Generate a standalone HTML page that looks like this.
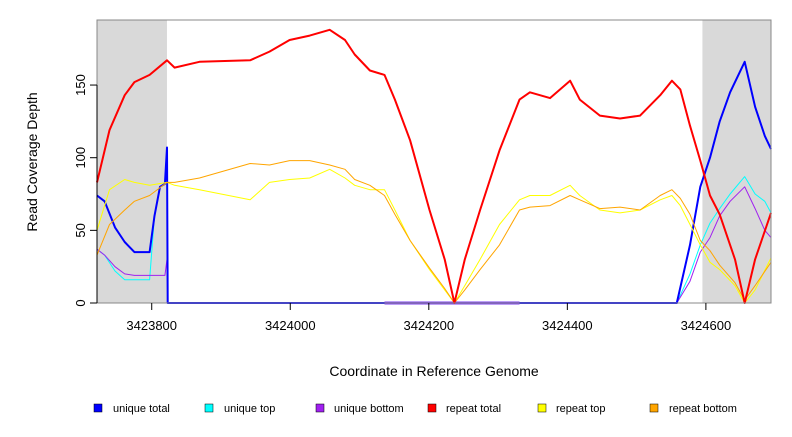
<!DOCTYPE html>
<html><head><meta charset="utf-8"><style>
html,body{margin:0;padding:0;background:#fff;}
svg text{font-family:"Liberation Sans",sans-serif;fill:#000;}
</style></head><body>
<svg id="chart" width="792" height="432" xmlns="http://www.w3.org/2000/svg">
<g id="plot"></g>
</svg>
<script>
const repeatX=[3423721,3423739,3423761,3423775,3423797,3423822,3423833,3423869,3423942,3423970,3423999,3424028,3424057,3424079,3424093,3424115,3424136,3424151,3424173,3424201,3424223,3424237,3424252,3424274,3424302,3424331,3424346,3424375,3424404,3424418,3424447,3424476,3424505,3424534,3424551,3424563,3424577,3424592,3424606,3424620,3424642,3424656,3424671,3424694];
const repeatTotal=[83,119,143,152,157,167,162,166,167,173,181,184,188,181,171,160,157,140,112,64,30,0,30,64,105,140,145,141,153,140,129,127,129,143,153,147,122,98,74,61,30,0,30,62];
const repeatTop=[50,78,85,83,81,83,81,78,71,83,85,86,92,86,81,78,78,64,43,23,9,0,12,30,54,71,74,74,81,74,64,62,64,71,74,67,54,40,28,23,12,0,9,31];
const repeatBottom=[33,54,64,70,74,83,83,86,96,95,98,98,95,92,85,81,74,61,43,24,10,0,9,23,40,64,66,67,74,71,65,66,64,74,78,72,61,43,36,26,14,2,12,28];
const uniqueX=[3423721,3423732,3423747,3423761,3423775,3423790,3423797,3423804,3423812,3423819,3423822,3423823,3424558,3424577,3424592,3424606,3424620,3424635,3424656,3424671,3424685,3424694];
const uniqueTotal=[74,70,52,42,35,35,35,60,80,82,107,0,0,40,80,100,125,145,166,135,115,106];
const uniqueTop=[37,33,22,16,16,16,16,60,80,82,82,0,0,20,40,55,65,75,87,75,70,62];
const uniqueBottom=[37,33,25,20,19,19,19,19,19,19,30,0,0,15,35,45,60,70,80,65,50,45];
const blipX=[3424136,3424331];
const blipY=[0,0];
const xTicks=[3423800,3424000,3424200,3424400,3424600];
const yTicks=[0,50,100,150];
const shadeRegions=[[3423721,3423822],[3424595,3424694]];

const L=97,R=771,T=20,B=303;
const X0=3423721,X1=3424694;
function sx(v){return L+(v-X0)/(X1-X0)*(R-L);}
function sy(v){return B-v*1.453;}
const NS="http://www.w3.org/2000/svg";
const g=document.getElementById('plot');
function mk(tag,attrs,parent){const e=document.createElementNS(NS,tag);for(const k in attrs)e.setAttribute(k,attrs[k]);(parent||g).appendChild(e);return e;}

shadeRegions.forEach(r=>{
  const e=mk('rect',{x:sx(r[0]),y:T,width:sx(r[1])-sx(r[0]),height:B-T,fill:'#d9d9d9'});
  
  
});

function line(xs,ys,color,w,name){
  const pts=xs.map((x,i)=>sx(x).toFixed(1)+','+sy(ys[i]).toFixed(1)).join(' ');
  const e=mk('polyline',{points:pts,fill:'none',stroke:color,'stroke-width':w,'stroke-linejoin':'round'});
  
  
}
line(uniqueX,uniqueTop,'#00ffff',1,'unique-top-line');
line(uniqueX,uniqueBottom,'#a020f0',1,'unique-bottom-line');
line(uniqueX,uniqueTotal,'#0000ff',2,'unique-total-line');
line(blipX,blipY,'#7b3ff0',3,'unique-bottom-zero-segment');
line(repeatX,repeatTop,'#ffff00',1,'repeat-top-line');
line(repeatX,repeatBottom,'#ffa500',1,'repeat-bottom-line');
line(repeatX,repeatTotal,'#ff0000',2,'repeat-total-line');

const frame=mk('rect',{x:L,y:T,width:R-L,height:B-T,fill:'none',stroke:'#888','stroke-width':1});



xTicks.forEach(v=>{
  const x=sx(v);
  const t=mk('line',{x1:x,y1:B,x2:x,y2:B+7,stroke:'#000'});
  
  
  const l=mk('text',{x:x,y:B+27,'font-size':13,'text-anchor':'middle'});
  l.textContent=v;
  
  
});
const yax=mk('line',{x1:L,y1:sy(0),x2:L,y2:sy(150),stroke:'#000'});


yTicks.forEach(v=>{
  const y=sy(v);
  const t=mk('line',{x1:L-7,y1:y,x2:L,y2:y,stroke:'#000'});
  
  
  const l=mk('text',{x:0,y:0,'font-size':13,'text-anchor':'middle',transform:`translate(${L-12},${y}) rotate(-90)`});
  l.textContent=v;
  
  
});
</script>
<svg style="position:absolute;left:0;top:0" width="792" height="432" xmlns="http://www.w3.org/2000/svg">
<text x="434" y="376" font-size="14" text-anchor="middle">Coordinate in Reference Genome</text>
<text transform="translate(37,162) rotate(-90)" font-size="14" text-anchor="middle">Read Coverage Depth</text>
<g font-size="11">
<rect x="94" y="404" width="8" height="8" fill="#0000ff" stroke="#000" stroke-width="0.5"/>
<text x="113" y="412">unique total</text>
<rect x="205" y="404" width="8" height="8" fill="#00ffff" stroke="#000" stroke-width="0.5"/>
<text x="224" y="412">unique top</text>
<rect x="316" y="404" width="8" height="8" fill="#a020f0" stroke="#000" stroke-width="0.5"/>
<text x="334" y="412">unique bottom</text>
<rect x="428" y="404" width="8" height="8" fill="#ff0000" stroke="#000" stroke-width="0.5"/>
<text x="446" y="412">repeat total</text>
<rect x="538" y="404" width="8" height="8" fill="#ffff00" stroke="#000" stroke-width="0.5"/>
<text x="556" y="412">repeat top</text>
<rect x="650" y="404" width="8" height="8" fill="#ffa500" stroke="#000" stroke-width="0.5"/>
<text x="669" y="412">repeat bottom</text>
</g>
</svg>
</body></html>
